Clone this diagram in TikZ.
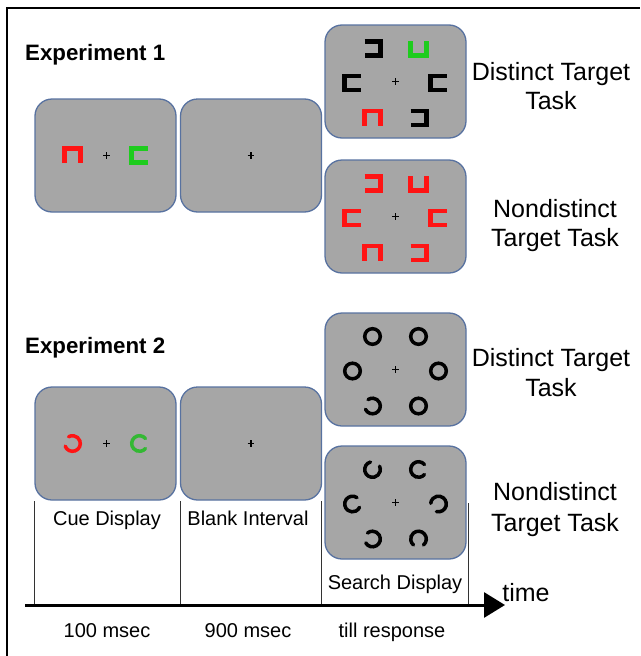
\documentclass[tikz,border=0pt]{standalone}
\usepackage{fontspec}
\setmainfont{Liberation Sans}
\usetikzlibrary{arrows.meta}
\definecolor{boxfill}{HTML}{A6A6A6}
\definecolor{boxedge}{HTML}{5872A0}
\definecolor{cred}{HTML}{FF1414}
\definecolor{cgreen}{HTML}{1ECC1E}
\definecolor{rgreen}{HTML}{33B833}
\tikzset{
  screen/.style={draw=boxedge, fill=boxfill, line width=1.3pt, rounded corners=17pt,
    minimum width=141pt, minimum height=113pt, inner sep=0pt},
  sym/.style={line width=4.4pt, line join=miter, line cap=butt},
  ring/.style={line width=3.5pt, line cap=round},
  tickline/.style={draw=black!80, line width=1pt},
  lbl/.style={font=\fontsize{20}{22}\selectfont, anchor=base, inner sep=0pt},
  task/.style={font=\fontsize{25}{28}\selectfont, anchor=base, inner sep=0pt},
  expt/.style={font=\bfseries\fontsize{22.3}{24}\selectfont, anchor=base west, inner sep=0pt},
}
% brackets: colour, x, y
\newcommand\brkR[3]{\draw[sym,#1,shift={(#2,#3)}] (8,-7)--(-8,-7)--(-8,7)--(8,7);}
\newcommand\brkL[3]{\draw[sym,#1,shift={(#2,#3)}] (-8,-7)--(8,-7)--(8,7)--(-8,7);}
\newcommand\brkU[3]{\draw[sym,#1,shift={(#2,#3)}] (-8,-7.5)--(-8,7)--(8,7)--(8,-7.5);}
\newcommand\brkD[3]{\draw[sym,#1,shift={(#2,#3)}] (-8,7.5)--(-8,-7)--(8,-7)--(8,7.5);}
% ring with gap: colour, x, y, gap direction (degrees, visual)
\newcommand\ringg[4]{\draw[ring,#1,shift={(#2,#3)}] ({-(#4+40)}:7.8) arc[start angle={-(#4+40)}, end angle={-(#4+320)}, radius=7.8];}
\newcommand\ringc[3]{\draw[line width=3.5pt,#1] (#2,#3) circle[radius=7.8];}
\newcommand\fixcross{\draw[line width=1.1pt] (-3.3,0)--(3.3,0) (0,-3.3)--(0,3.3);}
\begin{document}
\begin{tikzpicture}[x=1pt,y=-1pt]
\useasboundingbox (0,0) rectangle (640,656);
% frame
\draw[line width=2.5pt] (7,656) -- (7,8) -- (640,8);

% screens
\node[screen] (c1) at (105.5,155.5) {};
\node[screen] (b1) at (251,155.5) {};
\node[screen] (d1) at (395.5,81.5) {};
\node[screen] (n1) at (395.5,216.5) {};
\node[screen] (c2) at (105.5,443.5) {};
\node[screen] (b2) at (251,443.5) {};
\node[screen] (d2) at (395.5,369.5) {};
\node[screen] (n2) at (395.5,502.5) {};

% Experiment 1 cue
\begin{scope}[shift={(105.5,155.5)}]
  \brkD{cred}{-33}{0}
  \brkR{cgreen}{34}{0}
  \begin{scope}[shift={(1,0)}]\fixcross\end{scope}
\end{scope}
\begin{scope}[shift={(251,155.5)}]\fixcross\end{scope}
% Experiment 1 distinct
\begin{scope}[shift={(395.5,81.5)}]
  \brkL{black}{-23}{-33}
  \brkU{cgreen}{23}{-33}
  \brkR{black}{-43}{1.5}
  \brkR{black}{43}{1.5}
  \brkD{cred}{-23}{36.5}
  \brkL{black}{23}{36.5}
  \fixcross
\end{scope}
% Experiment 1 nondistinct
\begin{scope}[shift={(395.5,216.5)}]
  \brkL{cred}{-23}{-33}
  \brkU{cred}{23}{-33}
  \brkR{cred}{-43}{1.5}
  \brkR{cred}{43}{1.5}
  \brkD{cred}{-23}{36.5}
  \brkL{cred}{23}{36.5}
  \fixcross
\end{scope}

% Experiment 2 cue
\begin{scope}[shift={(105.5,443.5)}]
  \ringg{cred}{-33}{0}{160}
  \ringg{rgreen}{34}{0}{0}
  \begin{scope}[shift={(1,0)}]\fixcross\end{scope}
\end{scope}
\begin{scope}[shift={(251,443.5)}]\fixcross\end{scope}
% Experiment 2 distinct
\begin{scope}[shift={(395.5,369.5)}]
  \ringc{black}{-23}{-33}
  \ringc{black}{23}{-33}
  \ringc{black}{-43}{1.5}
  \ringc{black}{43}{1.5}
  \ringg{black}{-23}{36.5}{165}
  \ringc{black}{23}{36.5}
  \fixcross
\end{scope}
% Experiment 2 nondistinct
\begin{scope}[shift={(395.5,502.5)}]
  \ringg{black}{-23}{-33}{65}
  \ringg{black}{23}{-33}{0}
  \ringg{black}{-43}{1.5}{15}
  \ringg{black}{43}{1.5}{215}
  \ringg{black}{-23}{36.5}{170}
  \ringg{black}{23}{36.5}{270}
  \fixcross
\end{scope}

% headings
\node[expt] (e1) at (25,60.5) {Experiment 1};
\node[expt] (e2) at (25,353.5) {Experiment 2};
\node[task] (t1a) at (551,80.5) {Distinct Target};
\node[task] (t1b) at (551,109.5) {Task};
\node[task] (t2a) at (555,217.5) {Nondistinct};
\node[task] (t2b) at (555,246.5) {Target Task};
\node[task] (t3a) at (551,366.5) {Distinct Target};
\node[task] (t3b) at (551,396.5) {Task};
\node[task] (t4a) at (555,500.5) {Nondistinct};
\node[task] (t4b) at (555,531.5) {Target Task};

% timeline
\coordinate (v1t) at (34,501);
\coordinate (v1b) at (34,605);
\coordinate (v2t) at (180,501);
\coordinate (v2b) at (180,605);
\coordinate (v3t) at (321,501);
\coordinate (v3b) at (321,605);
\coordinate (v4t) at (468,503);
\coordinate (v4b) at (468,605);
\draw[tickline] (v1t) -- (v1b);
\draw[tickline] (v2t) -- (v2b);
\draw[tickline] (v3t) -- (v3b);
\draw[tickline] (v4t) -- (v4b);
\coordinate (ax0) at (25,605);
\coordinate (ax1) at (505,605);
\draw[line width=3pt, -{Triangle[length=21pt,width=25pt]}] (ax0) -- (ax1);

\node[lbl] (l1) at (107,525) {Cue Display};
\node[lbl] (l2) at (248,525) {Blank Interval};
\node[lbl] (l3) at (395,589) {Search Display};
\node[task] (tm) at (526,601) {time};
\node[lbl] (m1) at (107,637) {100 msec};
\node[lbl] (m2) at (248,637) {900 msec};
\node[lbl] (m3) at (392,637) {till response};
\end{tikzpicture}
\end{document}
